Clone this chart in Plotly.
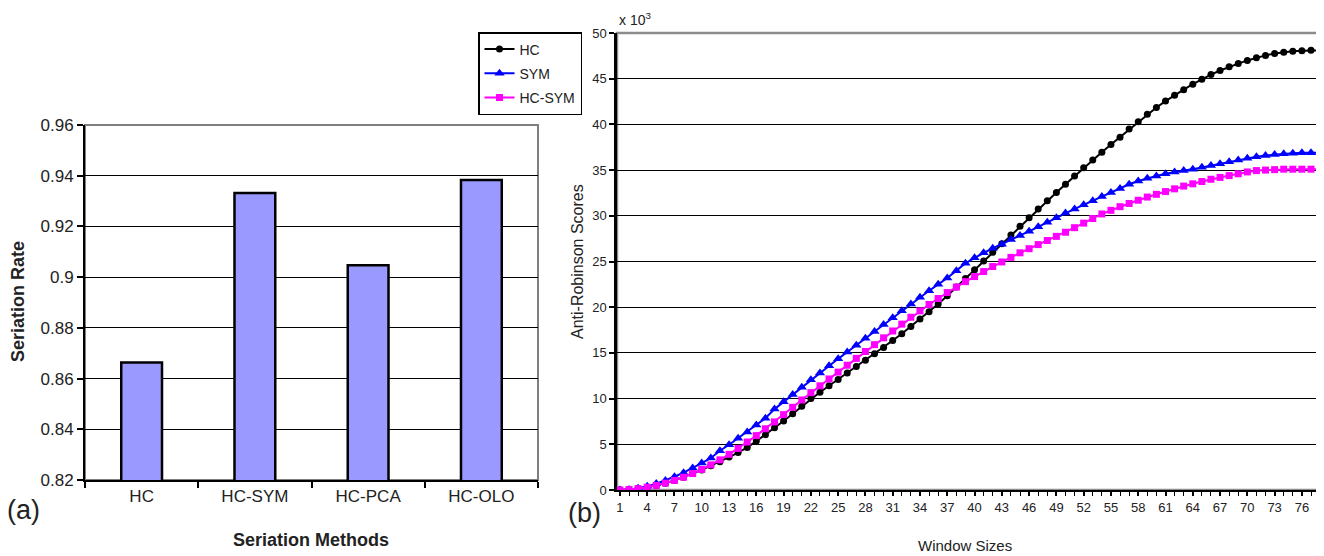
import plotly.graph_objects as go

W, H = 1324, 556

# ---------------- data ----------------
methods = ["HC", "HC-SYM", "HC-PCA", "HC-OLO"]
seriation_rate = [0.8663, 0.9332, 0.9047, 0.9383]

window_sizes = list(range(1, 79))
hc = [0.0, 0.05, 0.15, 0.3, 0.5, 0.75, 1.05, 1.4, 1.8, 2.2,
      2.65, 3.1, 3.6, 4.1, 4.65, 5.35, 6.05, 6.8, 7.55, 8.35,
      9.15, 10.0, 10.7, 11.4, 12.1, 12.8, 13.5, 14.2, 14.9, 15.6,
      16.35, 17.1, 17.9, 18.7, 19.5, 20.35, 21.25, 22.2, 23.15, 24.1,
      25.05, 26.0, 26.95, 27.9, 28.85, 29.8, 30.75, 31.65, 32.55, 33.45,
      34.35, 35.25, 36.1, 36.95, 37.8, 38.6, 39.5, 40.3, 41.1, 41.85,
      42.55, 43.2, 43.8, 44.4, 44.95, 45.45, 45.9, 46.3, 46.65, 47.0,
      47.3, 47.55, 47.75, 47.9, 48.0, 48.05, 48.1, 48.1]
sym = [0.0, 0.05, 0.2, 0.4, 0.7, 1.05, 1.45, 1.9, 2.4, 2.95,
       3.5, 4.3, 4.95, 5.65, 6.35, 7.1, 7.85, 8.85, 9.65, 10.45,
       11.25, 12.05, 12.8, 13.6, 14.35, 15.1, 15.85, 16.6, 17.35, 18.1,
       18.85, 19.6, 20.35, 21.1, 21.8, 22.5, 23.2, 24.0, 24.8, 25.4,
       25.95, 26.45, 26.9, 27.4, 27.85, 28.3, 28.8, 29.3, 29.8, 30.3,
       30.75, 31.2, 31.65, 32.1, 32.55, 33.0, 33.45, 33.8, 34.1, 34.35,
       34.6, 34.8, 34.95, 35.1, 35.3, 35.5, 35.7, 35.9, 36.1, 36.3,
       36.45, 36.6, 36.7, 36.8, 36.85, 36.9, 36.9, 36.9]
hc_sym = [0.0, 0.05, 0.15, 0.3, 0.5, 0.75, 1.05, 1.4, 1.8, 2.25,
          2.75, 3.3, 3.9, 4.55, 5.25, 5.95, 6.7, 7.45, 8.25, 9.05,
          9.85, 10.65, 11.4, 12.15, 12.9, 13.65, 14.4, 15.15, 15.9, 16.65,
          17.4, 18.15, 18.9, 19.6, 20.3, 20.95, 21.6, 22.2, 22.8, 23.35,
          23.9, 24.45, 24.95, 25.45, 25.95, 26.4, 26.85, 27.3, 27.75, 28.2,
          28.7, 29.2, 29.7, 30.2, 30.6, 31.0, 31.35, 31.7, 32.05, 32.35,
          32.65, 32.95, 33.25, 33.5, 33.75, 34.0, 34.2, 34.4, 34.6, 34.8,
          34.95, 35.0, 35.05, 35.1, 35.1, 35.1, 35.1, 35.1]

rate_ticks = [0.82, 0.84, 0.86, 0.88, 0.9, 0.92, 0.94, 0.96]
rate_tick_text = ["0.82", "0.84", "0.86", "0.88", "0.9", "0.92", "0.94", "0.96"]
score_ticks = [0, 5, 10, 15, 20, 25, 30, 35, 40, 45, 50]

# ---------------- layout helpers ----------------
OFF = 8  # page body margin offset

def px_x(p):
    return (p - OFF) / W

def px_y(p):
    return 1 - (p - OFF) / H

FONT = "Liberation Sans, Arial, sans-serif"

# plot areas (pixel bounds in the final picture)
L_x0, L_x1, L_y0, L_y1 = 85, 538, 125, 480
R_x0, R_x1, R_y0, R_y1 = 617, 1321, 33, 490

fig = go.Figure()

fig.add_trace(go.Bar(
    x=methods, y=seriation_rate, xaxis="x", yaxis="y",
    marker=dict(color="#9999FF", line=dict(color="black", width=2.5)),
    showlegend=False,
))

fig.add_trace(go.Scatter(
    x=window_sizes, y=hc, xaxis="x2", yaxis="y2", name="HC",
    mode="lines+markers", legendgroup="a",
    line=dict(color="black", width=2),
    marker=dict(symbol="circle", size=7, color="black"),
))
fig.add_trace(go.Scatter(
    x=window_sizes, y=sym, xaxis="x2", yaxis="y2", name="SYM",
    mode="lines+markers", legendgroup="b",
    line=dict(color="#0000FF", width=2),
    marker=dict(symbol="triangle-up", size=9, color="#0000FF"),
))
fig.add_trace(go.Scatter(
    x=window_sizes, y=hc_sym, xaxis="x2", yaxis="y2", name="HC-SYM",
    mode="lines+markers", legendgroup="c",
    line=dict(color="#FF00FF", width=2),
    marker=dict(symbol="square", size=7, color="#FF00FF"),
))

shapes = [
    dict(type="rect", xref="paper", yref="paper",
         x0=px_x(L_x0), x1=px_x(L_x1), y0=px_y(L_y1), y1=px_y(L_y0),
         line=dict(color="#7f7f7f", width=2), layer="below"),
    dict(type="rect", xref="paper", yref="paper",
         x0=px_x(R_x0), x1=px_x(R_x1), y0=px_y(R_y1), y1=px_y(R_y0),
         line=dict(color="#8c8c8c", width=2.5), layer="below"),
]

def note(text, x, y, size, angle=0, xanchor="center"):
    return dict(text=text, x=px_x(x), y=px_y(y), xref="paper", yref="paper",
                xanchor=xanchor, yanchor="middle", textangle=angle,
                showarrow=False, font=dict(size=size, color="#222"))

annotations = [
    note("<b>Seriation Rate</b>", 18, 302, 18, angle=-90),
    note("<b>Seriation Methods</b>", 311, 540, 18),
    note("(a)", 23, 510, 27),
    note("(b)", 584, 513, 27),
    note("Anti-Robinson Scores", 577, 262, 16, angle=-90),
    note("Window Sizes", 965, 545, 15),
    note("x 10<sup>3</sup>", 617, 19, 14, xanchor="left"),
]

fig.update_layout(
    width=W, height=H,
    margin=dict(l=0, r=0, t=0, b=0, autoexpand=False),
    paper_bgcolor="white", plot_bgcolor="white",
    font=dict(family=FONT, color="#222"),
    bargap=0.64,
    shapes=shapes, annotations=annotations,
    xaxis=dict(
        domain=[px_x(L_x0), px_x(L_x1)], anchor="y", automargin=False,
        type="category", tickson="boundaries",
        ticks="outside", ticklen=6, tickcolor="black", tickwidth=1.5,
        showline=True, linecolor="black", linewidth=2,
        showgrid=False, tickfont=dict(size=17),
    ),
    yaxis=dict(
        domain=[px_y(L_y1), px_y(L_y0)], anchor="x", automargin=False,
        range=[0.82, 0.96], tickvals=rate_ticks, ticktext=rate_tick_text,
        ticks="outside", ticklen=6, tickcolor="black", tickwidth=1.5,
        showline=True, linecolor="black", linewidth=2,
        showgrid=True, gridcolor="black", gridwidth=1,
        zeroline=False, tickfont=dict(size=17),
    ),
    xaxis2=dict(
        domain=[px_x(R_x0), px_x(R_x1)], anchor="y2", automargin=False,
        range=[0.68, 78.1], tick0=1, dtick=3,
        ticks="outside", ticklen=4, tickcolor="black", tickwidth=1.5,
        minor=dict(dtick=1, tick0=1, ticks="outside", ticklen=4,
                   tickcolor="black", tickwidth=1, showgrid=False),
        showline=True, linecolor="black", linewidth=2,
        showgrid=False, zeroline=False, tickfont=dict(size=13),
    ),
    yaxis2=dict(
        domain=[px_y(R_y1), px_y(R_y0)], anchor="x2", automargin=False,
        range=[0, 50], tickvals=score_ticks,
        ticks="outside", ticklen=5, tickcolor="black", tickwidth=1.5,
        showline=True, linecolor="black", linewidth=2.5,
        showgrid=True, gridcolor="black", gridwidth=1,
        zeroline=False, tickfont=dict(size=13),
    ),
    legend=dict(
        x=px_x(478), y=px_y(32), xanchor="left", yanchor="top",
        bordercolor="black", borderwidth=1.5, bgcolor="white",
        font=dict(size=14, color="#222"),
        traceorder="grouped", tracegroupgap=3,
    ),
)

fig.write_html("out.html")
